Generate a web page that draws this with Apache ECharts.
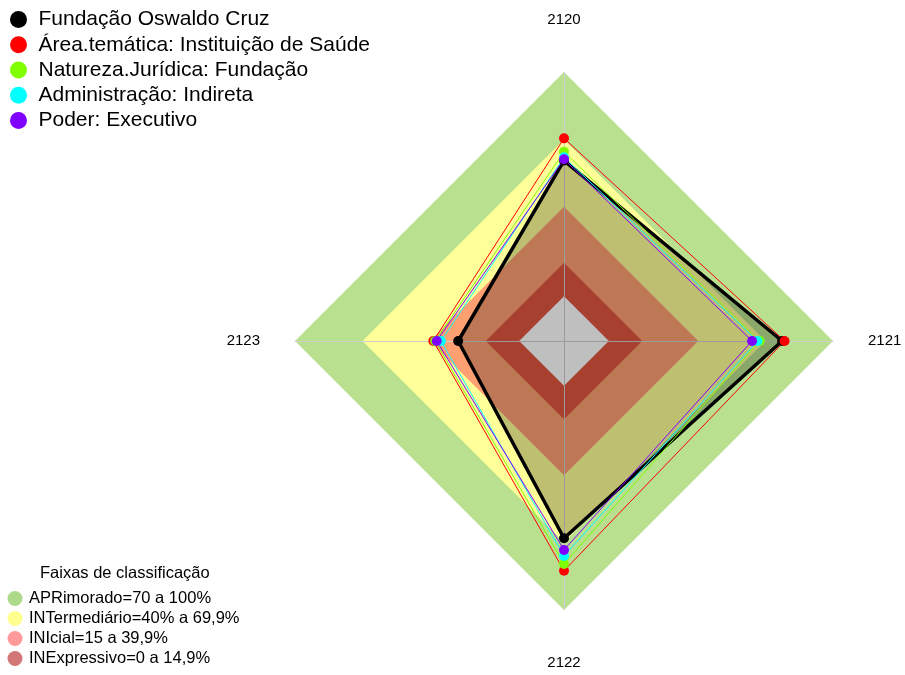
<!DOCTYPE html>
<html>
<head>
<meta charset="utf-8">
<script src="https://cdn.jsdelivr.net/npm/echarts@6/dist/echarts.min.js"></script>
<style>
  html, body { margin: 0; padding: 0; background: #fff; }
  #chart { width: 905px; height: 675px; }
</style>
</head>
<body>
<div id="chart"></div>
<script>
// eixos do radar (sentido horário a partir do topo)
const categories = ['2120', '2121', '2122', '2123']

// séries (% por eixo, na ordem de categories)
const fiocruz = [60.5, 77.3, 68.0, 27.2]
const areaTematica = [70.4, 78.4, 82.5, 38.3]
const natureza = [64.4, 67.3, 79.5, 37.5]
const administracao = [62.0, 66.3, 75.9, 34.9]
const poder = [61.1, 63.9, 73.2, 36.8]

const seriesNames = [
  'Fundação Oswaldo Cruz',
  'Área.temática: Instituição de Saúde',
  'Natureza.Jurídica: Fundação',
  'Administração: Indireta',
  'Poder: Executivo'
]
const seriesValues = [fiocruz, areaTematica, natureza, administracao, poder]
const seriesColors = ['#000000', '#ff0000', '#80ff00', '#00ffff', '#8000ff']

// faixas de classificação (limite superior de cada faixa)
const bandNames = [
  'APRimorado=70 a 100%',
  'INTermediário=40% a 69,9%',
  'INIcial=15 a 39,9%',
  'INExpressivo=0 a 14,9%'
]
const bandUpper = [100, 69.9, 39.9, 14.9]
const bandFill = ['#b9e08e', '#ffff99', '#ffa072', '#e05641']
const bandLegend = ['#acd98a', '#ffff8f', '#ff9a9a', '#d27777']

const FONT = '"Liberation Sans", Arial, sans-serif'

// echarts desenha o radar no sentido anti-horário: reordena para 2120, 2123, 2122, 2121
const order = [0, 3, 2, 1]
const reorder = arr => order.map(i => arr[i])

const chart = echarts.init(document.getElementById('chart'))

const bandSeries = bandNames.map((name, i) => ({
  type: 'radar',
  name: name,
  z: 1,
  symbol: 'none',
  silent: true,
  itemStyle: { color: bandLegend[i] },
  lineStyle: { width: 0, opacity: 0 },
  areaStyle: { color: bandFill[i], opacity: 1 },
  data: [{ value: reorder(categories.map(() => bandUpper[i])) }]
}))

// centro branco (valor 0 fica afastado do centro)
bandSeries.push({
  type: 'radar',
  name: 'centro',
  z: 1,
  symbol: 'none',
  silent: true,
  lineStyle: { width: 0, opacity: 0 },
  areaStyle: { color: '#ffffff', opacity: 1 },
  data: [{ value: reorder(categories.map(() => 0)) }]
})

const dataSeries = seriesNames.map((name, i) => ({
  type: 'radar',
  name: name,
  z: 5,
  symbol: 'circle',
  symbolSize: 10,
  itemStyle: { color: seriesColors[i] },
  lineStyle: { color: seriesColors[i], width: i === 0 ? 3.5 : 1 },
  areaStyle: i === 0 ? { color: 'rgba(0,0,0,0.25)', opacity: 1 } : undefined,
  data: [{ value: reorder(seriesValues[i]) }]
}))

const options = {
  backgroundColor: '#fff',
  animation: false,
  title: {
    text: 'Faixas de classificação',
    left: 40,
    top: 564.5,
    padding: 0,
    textStyle: { fontFamily: FONT, fontSize: 16.5, fontWeight: 'normal', color: '#000' }
  },
  legend: [
    {
      data: seriesNames.map((n, i) => ({ name: n, itemStyle: { color: seriesColors[i], borderWidth: 0 } })),
      orient: 'vertical',
      left: 10,
      top: 9,
      padding: 0,
      icon: 'circle',
      itemWidth: 30,
      itemHeight: 17,
      itemGap: 4.25,
      selectedMode: false,
      textStyle: { fontFamily: FONT, fontSize: 21, lineHeight: 20, color: '#000' }
    },
    {
      data: bandNames.map((n, i) => ({ name: n, itemStyle: { color: bandLegend[i], borderWidth: 0 } })),
      orient: 'vertical',
      left: 7.5,
      top: 590,
      padding: 0,
      icon: 'circle',
      itemWidth: 18,
      itemHeight: 15,
      itemGap: 3,
      selectedMode: false,
      textStyle: { fontFamily: FONT, fontSize: 16.5, lineHeight: 15, color: '#000' }
    }
  ],
  radar: {
    center: [564, 341],
    radius: 269,
    shape: 'polygon',
    startAngle: 90,
    z: 3,
    indicator: reorder(categories).map(c => ({ name: c, min: -20, max: 100 })),
    axisNameGap: 35,
    axisName: { color: '#000', fontFamily: FONT, fontSize: 15, padding: [10, 0, 10, 0] },
    axisLine: { lineStyle: { color: '#cfcfcf', width: 1 } },
    splitLine: { show: false },
    splitArea: { show: false },
    axisTick: { show: false },
    axisLabel: { show: false }
  },
  series: bandSeries.concat(dataSeries)
}

chart.setOption(options, true)
</script>
</body>
</html>
